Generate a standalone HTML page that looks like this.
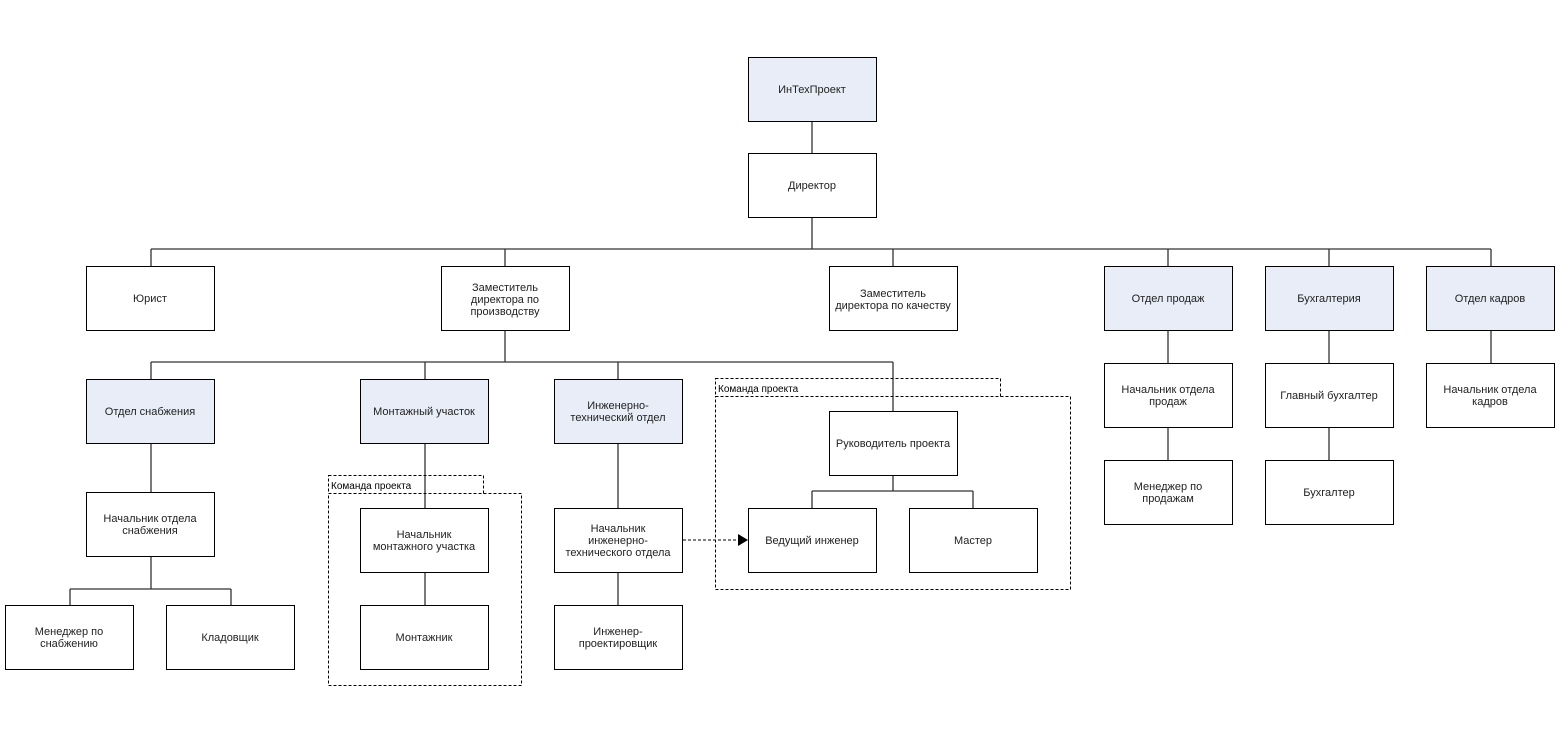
<!DOCTYPE html>
<html><head><meta charset="utf-8"><style>html,body{margin:0;padding:0;background:#fff}</style></head><body>
<svg width="1560" height="742" xmlns="http://www.w3.org/2000/svg" font-family="Liberation Sans, sans-serif" font-size="11" fill="#000">
<rect width="1560" height="742" fill="#fff"/>
<g stroke="#333" stroke-width="1.3" fill="none">
<path d="M812 121V153M812 217V249M151 249H1491M151 249V266M505 249V266M893 249V266M1168 249V266M1329 249V266M1491 249V266"/>
<path d="M505 330V362M151 362H893M151 362V379M425 362V379M618 362V379M893 362V411"/>
<path d="M151 443V492M151 556V589M70 589H231M70 589V605M231 589V605"/>
<path d="M425 443V508M425 572V605M618 443V508M618 572V605"/>
<path d="M893 475V491M812 491H973M812 491V508M973 491V508"/>
<path d="M1168 330V363M1168 427V460M1329 330V363M1329 427V460M1491 330V363"/>
</g>
<g stroke="#000" stroke-width="1" fill="none" stroke-dasharray="3,2">
<rect x="328.5" y="475.5" width="155" height="18"/>
<rect x="328.5" y="493.5" width="193" height="192"/>
<rect x="715.5" y="378.5" width="285" height="18"/>
<rect x="715.5" y="396.5" width="355" height="193"/>
<path d="M683 540H740"/>
</g>
<path d="M738 534L748 540L738 546Z" fill="#000"/>
<text x="331" y="489" font-size="10">Команда проекта</text>
<text x="718" y="392" font-size="10">Команда проекта</text>
<g stroke="#000" stroke-width="1">
<g fill="#e8edf7">
<rect x="748.5" y="57.5" width="128" height="64"/>
<rect x="1104.5" y="266.5" width="128" height="64"/>
<rect x="1265.5" y="266.5" width="128" height="64"/>
<rect x="1426.5" y="266.5" width="128" height="64"/>
<rect x="86.5" y="379.5" width="128" height="64"/>
<rect x="360.5" y="379.5" width="128" height="64"/>
<rect x="554.5" y="379.5" width="128" height="64"/>
</g>
<g fill="#fff">
<rect x="748.5" y="153.5" width="128" height="64"/>
<rect x="86.5" y="266.5" width="128" height="64"/>
<rect x="441.5" y="266.5" width="128" height="64"/>
<rect x="829.5" y="266.5" width="128" height="64"/>
<rect x="829.5" y="411.5" width="128" height="64"/>
<rect x="1104.5" y="363.5" width="128" height="64"/>
<rect x="1265.5" y="363.5" width="128" height="64"/>
<rect x="1426.5" y="363.5" width="128" height="64"/>
<rect x="1104.5" y="460.5" width="128" height="64"/>
<rect x="1265.5" y="460.5" width="128" height="64"/>
<rect x="86.5" y="492.5" width="128" height="64"/>
<rect x="5.5" y="605.5" width="128" height="64"/>
<rect x="166.5" y="605.5" width="128" height="64"/>
<rect x="360.5" y="508.5" width="128" height="64"/>
<rect x="360.5" y="605.5" width="128" height="64"/>
<rect x="554.5" y="508.5" width="128" height="64"/>
<rect x="554.5" y="605.5" width="128" height="64"/>
<rect x="748.5" y="508.5" width="128" height="64"/>
<rect x="909.5" y="508.5" width="128" height="64"/>
</g>
</g>
<g text-anchor="middle" fill="#222">
<text x="812" y="93">ИнТехПроект</text>
<text x="812" y="189">Директор</text>
<text x="150" y="302">Юрист</text>
<text x="505" y="291">Заместитель</text><text x="505" y="303">директора по</text><text x="505" y="315">производству</text>
<text x="893" y="297">Заместитель</text><text x="893" y="309">директора по качеству</text>
<text x="1168" y="302">Отдел продаж</text>
<text x="1329" y="302">Бухгалтерия</text>
<text x="1490" y="302">Отдел кадров</text>
<text x="150" y="415">Отдел снабжения</text>
<text x="424" y="415">Монтажный участок</text>
<text x="618" y="409">Инженерно-</text><text x="618" y="421">технический отдел</text>
<text x="893" y="447">Руководитель проекта</text>
<text x="1168" y="393">Начальник отдела</text><text x="1168" y="405">продаж</text>
<text x="1329" y="399">Главный бухгалтер</text>
<text x="1490" y="393">Начальник отдела</text><text x="1490" y="405">кадров</text>
<text x="1168" y="490">Менеджер по</text><text x="1168" y="502">продажам</text>
<text x="1329" y="496">Бухгалтер</text>
<text x="150" y="522">Начальник отдела</text><text x="150" y="534">снабжения</text>
<text x="69" y="635">Менеджер по</text><text x="69" y="647">снабжению</text>
<text x="230" y="641">Кладовщик</text>
<text x="424" y="538">Начальник</text><text x="424" y="550">монтажного участка</text>
<text x="424" y="641">Монтажник</text>
<text x="618" y="532">Начальник</text><text x="618" y="544">инженерно-</text><text x="618" y="556">технического отдела</text>
<text x="618" y="635">Инженер-</text><text x="618" y="647">проектировщик</text>
<text x="812" y="544">Ведущий инженер</text>
<text x="973" y="544">Мастер</text>
</g>
</svg>
</body></html>
